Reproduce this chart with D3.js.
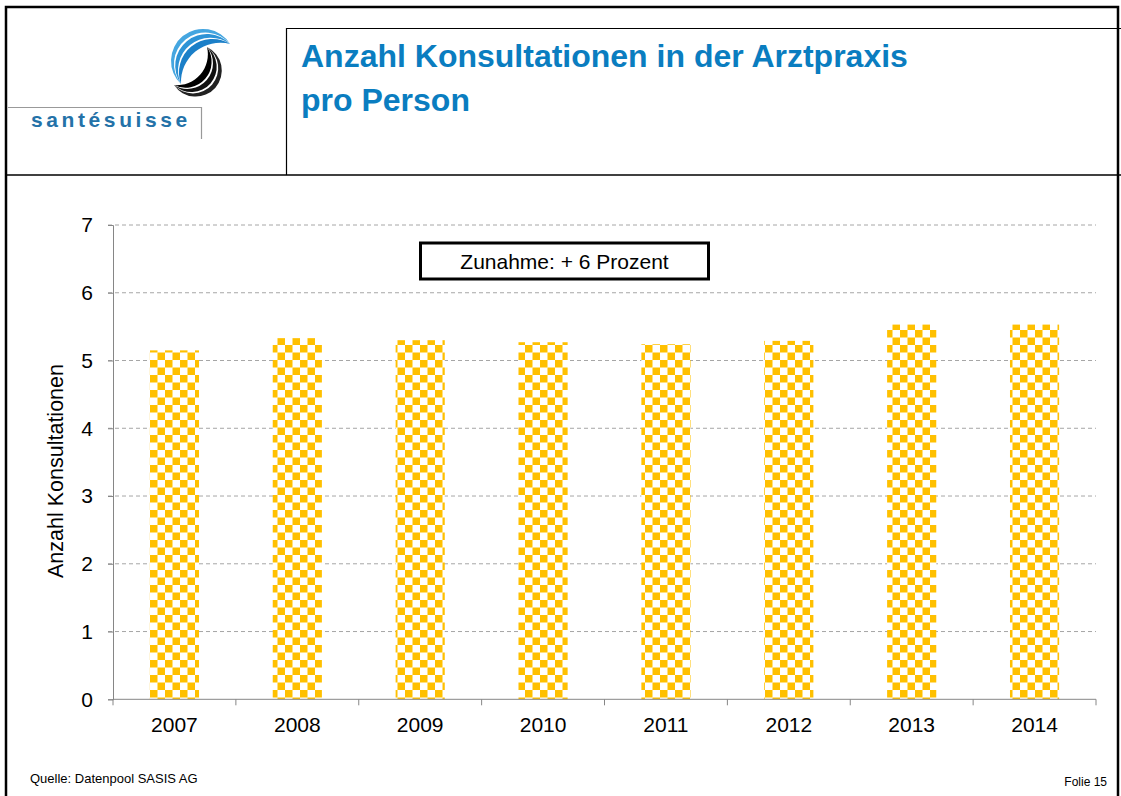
<!DOCTYPE html>
<html>
<head>
<meta charset="utf-8">
<script src="https://cdn.jsdelivr.net/npm/d3@7"></script>
<style>
  body { margin: 0; background: #fff; }
  svg { display: block; font-family: Arial, 'Liberation Sans', sans-serif; }
</style>
</head>
<body>
<script>
// chart data
const years = ['2007', '2008', '2009', '2010', '2011', '2012', '2013', '2014'];
const consultations = [5.15, 5.33, 5.30, 5.27, 5.24, 5.29, 5.53, 5.53];
const yTicks = [0, 1, 2, 3, 4, 5, 6, 7];

const width = 1121;
const height = 796;
const font = 'Arial, Liberation Sans, sans-serif';
const svg = d3.select('body').append('svg')
   .attr('width', width)
   .attr('height', height);

// checkerboard fill for the bars
const defs = svg.append('defs');
const pat = defs.append('pattern')
   .attr('id', 'checker')
   .attr('patternUnits', 'userSpaceOnUse')
   .attr('width', 15)
   .attr('height', 15)
   .attr('x', 150)
   .attr('y', 0);
pat.append('rect').attr('width', 15).attr('height', 15).attr('fill', '#fff');
pat.append('rect').attr('width', 7.5).attr('height', 7.5).attr('fill', '#ffc000');
pat.append('rect').attr('x', 7.5).attr('y', 7.5).attr('width', 7.5).attr('height', 7.5).attr('fill', '#ffc000');

// slide frame
svg.append('path')
   .attr('d', 'M6,796 V7 H1118 V796')
   .attr('fill', 'none')
   .attr('stroke', '#000')
   .attr('stroke-width', 2.5);
svg.append('line')
   .attr('x1', 7).attr('x2', 1121).attr('y1', 175).attr('y2', 175)
   .attr('stroke', '#000').attr('stroke-width', 1.5);
svg.append('path')
   .attr('d', 'M286.5,175 V28.5 H1121')
   .attr('fill', 'none')
   .attr('stroke', '#000')
   .attr('stroke-width', 1.2);

// logo: two crescents made of stripes (arc between the same two tips)
let crescent = (a, b, sOut, sIn) => {
   let h = Math.hypot(b[0] - a[0], b[1] - a[1]) / 2;
   let r1 = (sOut * sOut + h * h) / (2 * sOut);
   let r2 = (sIn * sIn + h * h) / (2 * sIn);
   return 'M' + a[0] + ',' + a[1] +
      ' A' + r1 + ',' + r1 + ' 0 ' + (sOut > h ? 1 : 0) + ' 1 ' + b[0] + ',' + b[1] +
      ' A' + r2 + ',' + r2 + ' 0 ' + (sIn > h ? 1 : 0) + ' 0 ' + a[0] + ',' + a[1] + 'Z';
};
const logo = svg.append('g');
const blueStripes = [[36, 31.5, '#45a6e0'], [29.5, 24.5, '#2d93d6'], [22.5, 16, '#1b7fc8']];
const blackStripes = [[33, 28.5, '#222'], [26.5, 21.5, '#111'], [19.5, 13, '#000']];
logo.selectAll('.b').data(blueStripes).enter().append('path')
   .attr('d', d => crescent([181, 84], [230, 44], d[0], d[1]))
   .attr('fill', d => d[2]);
logo.selectAll('.k').data(blackStripes).enter().append('path')
   .attr('d', d => crescent([207, 47], [174, 85], d[0], d[1]))
   .attr('fill', d => d[2]);
logo.append('path')
   .attr('d', 'M8,107.5 H201.5 V139')
   .attr('fill', 'none')
   .attr('stroke', '#999')
   .attr('stroke-width', 1.2);
logo.append('text')
   .attr('x', 31)
   .attr('y', 127)
   .attr('fill', '#2472a8')
   .attr('font-weight', 'bold')
   .attr('font-size', 21)
   .attr('letter-spacing', 3.6)
   .text('santésuisse');

// title
const title = svg.append('text')
   .attr('fill', '#0a7dc0')
   .attr('font-weight', 'bold')
   .attr('font-size', 32);
title.append('tspan').attr('x', 301).attr('y', 67).text('Anzahl Konsultationen in der Arztpraxis');
title.append('tspan').attr('x', 301).attr('y', 111).text('pro Person');

// chart
const margin = { left: 113, right: 1096, top: 225, bottom: 699.3 };
const x = d3.scaleBand()
   .domain(years)
   .range([margin.left, margin.right])
   .paddingInner(0.6)
   .paddingOuter(0.3);
const xAxisScale = d3.scaleBand().domain(years).range([margin.left, margin.right]);
const y = d3.scaleLinear()
   .domain([0, 7])
   .range([margin.bottom, margin.top]);

// gridlines
svg.append('g')
   .selectAll('line')
   .data(yTicks.filter(d => d > 0))
   .enter()
   .append('line')
   .attr('x1', margin.left - 5)
   .attr('x2', margin.right)
   .attr('y1', d => y(d))
   .attr('y2', d => y(d))
   .attr('stroke', '#a6a6a6')
   .attr('stroke-width', 1)
   .attr('stroke-dasharray', '4,3');

// bars
svg.append('g')
   .selectAll('rect')
   .data(consultations)
   .enter()
   .append('rect')
   .attr('x', (d, i) => x(years[i]))
   .attr('y', d => y(d))
   .attr('width', x.bandwidth())
   .attr('height', d => y(0) - y(d))
   .attr('fill', 'url(#checker)');

// y axis
const yAxis = d3.axisLeft(y)
   .tickValues(yTicks)
   .tickFormat(d3.format('d'))
   .tickSize(5)
   .tickPadding(15);
const gy = svg.append('g')
   .attr('transform', 'translate(' + margin.left + ',0)')
   .call(yAxis);
gy.attr('font-size', 21).attr('font-family', font);
gy.select('.domain').attr('stroke', '#868686');
gy.selectAll('.tick line').attr('stroke', '#868686');
gy.selectAll('.tick text').attr('fill', '#000');

// x axis: ticks sit between the categories
const gx = svg.append('g')
   .attr('transform', 'translate(0,' + margin.bottom + ')');
gx.append('line')
   .attr('x1', margin.left).attr('x2', margin.right)
   .attr('stroke', '#868686');
const bounds = years.map(d => xAxisScale(d)).concat([margin.right]);
gx.selectAll('.sep')
   .data(bounds)
   .enter()
   .append('line')
   .attr('x1', d => d).attr('x2', d => d)
   .attr('y1', 0).attr('y2', 6)
   .attr('stroke', '#868686');
gx.selectAll('.lbl')
   .data(years)
   .enter()
   .append('text')
   .attr('x', d => xAxisScale(d) + xAxisScale.bandwidth() / 2)
   .attr('y', 33)
   .attr('text-anchor', 'middle')
   .attr('font-size', 21)
   .text(d => d);

// axis title
svg.append('text')
   .attr('transform', 'translate(63,471) rotate(-90)')
   .attr('text-anchor', 'middle')
   .attr('font-size', 21.5)
   .text('Anzahl Konsultationen');

// annotation box
svg.append('rect')
   .attr('x', 420.5).attr('y', 243)
   .attr('width', 288).attr('height', 36)
   .attr('fill', '#fff')
   .attr('stroke', '#000')
   .attr('stroke-width', 3);
svg.append('text')
   .attr('x', 564.5).attr('y', 268.5)
   .attr('text-anchor', 'middle')
   .attr('font-size', 21)
   .text('Zunahme: + 6 Prozent');

// footer
svg.append('text')
   .attr('x', 30).attr('y', 783)
   .attr('font-size', 13)
   .text('Quelle: Datenpool SASIS AG');
svg.append('text')
   .attr('x', 1107).attr('y', 786)
   .attr('text-anchor', 'end')
   .attr('font-size', 12)
   .text('Folie 15');
</script>
</body>
</html>
